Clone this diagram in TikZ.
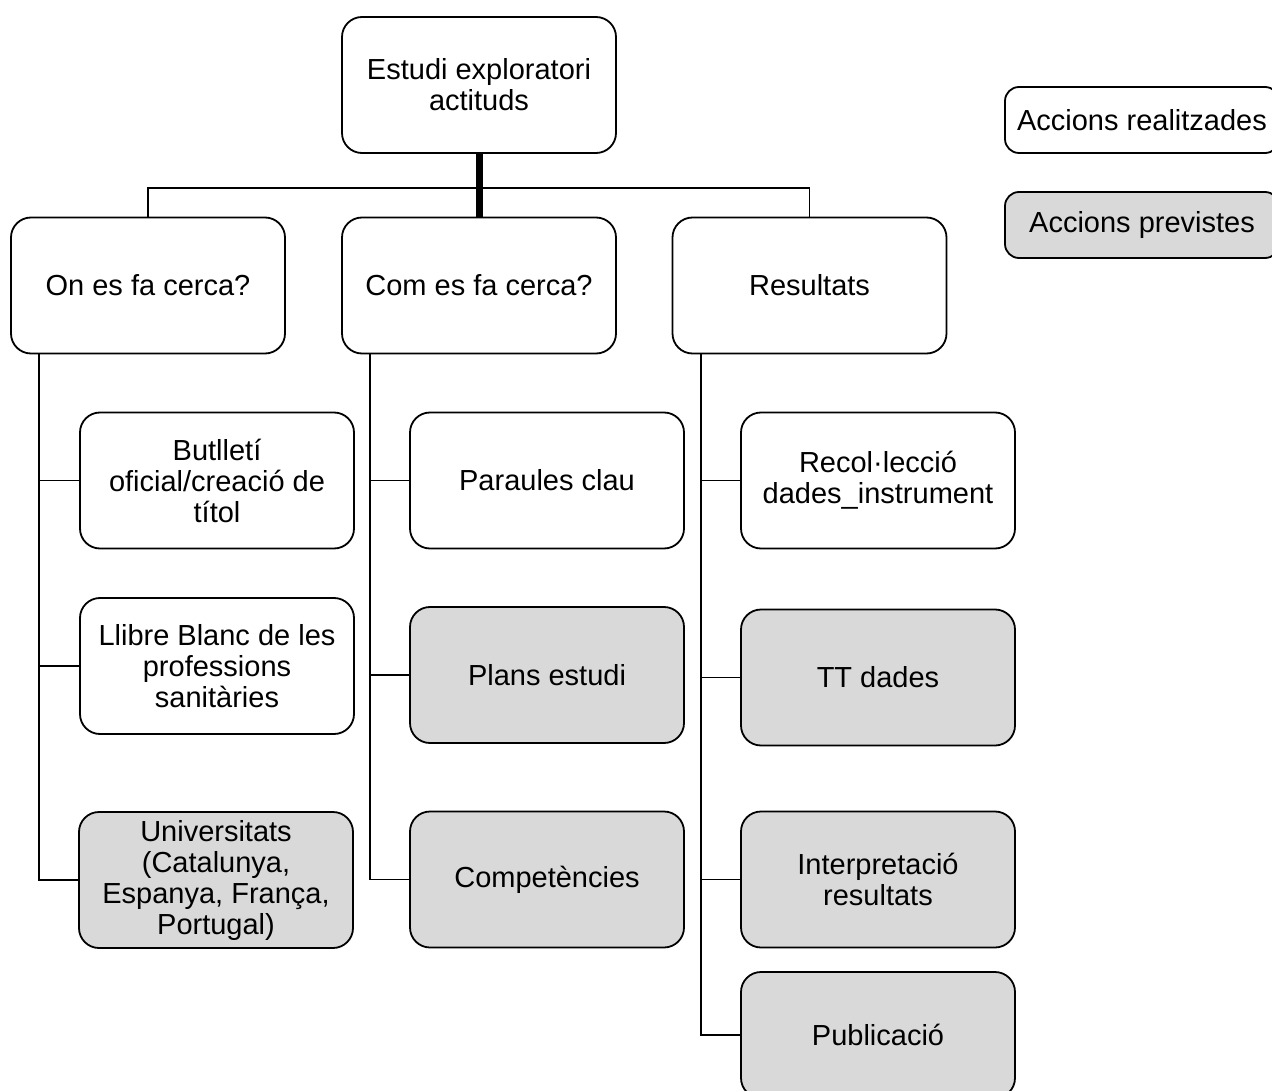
\documentclass[tikz,border=0pt]{standalone}
\usepackage{fontspec}
\setmainfont{Liberation Sans}
\definecolor{plangray}{HTML}{D9D9D9}
\begin{document}
\begin{tikzpicture}[x=1pt,y=-1pt,
  box/.style={draw=black,line width=1.8pt,rounded corners=20pt,fill=white,
    minimum width=274pt,align=center,inner sep=4pt,
    font=\fontsize{29}{31}\selectfont},
  tall/.style={box,minimum height=136pt},
  planned/.style={fill=plangray},
  legend/.style={box,minimum height=66pt,rounded corners=14pt},
  conn/.style={line width=1.8pt}]
\useasboundingbox (0,0) rectangle (1272,1091);
\clip (0,0) rectangle (1272,1091);
% top
\node[tall] (top) at (479,85) {Estudi exploratori\\actituds};
% legend
\node[legend] (lr) at (1142,120) {Accions realitzades};
\node[legend,planned] (lp) at (1142,225) {Accions previstes};
% level 2
\node[tall] (on) at (148,285.5) {On es fa cerca?};
\node[tall] (com) at (479,285.5) {Com es fa cerca?};
\node[tall] (res) at (809.5,285.5) {Resultats};
% column 1
\node[tall] (a1) at (217,480.5) {Butlletí\\oficial/creació de\\títol};
\node[tall] (a2) at (217,666) {Llibre Blanc de les\\professions\\sanitàries};
\node[tall,planned] (a3) at (216,880) {Universitats\\(Catalunya,\\Espanya, França,\\Portugal)};
% column 2
\node[tall] (b1) at (547,480.5) {Paraules clau};
\node[tall,planned] (b2) at (547,675) {Plans estudi};
\node[tall,planned] (b3) at (547,879.5) {Competències};
% column 3
\node[tall] (c1) at (878,480.5) {Recol·lecció\\dades\_instrument};
\node[tall,planned] (c2) at (878,677.5) {TT dades};
\node[tall,planned] (c3) at (878,879.5) {Interpretació\\resultats};
\node[tall,planned,minimum height=126pt] (c4) at (878,1035) {Publicació};
% connectors
\coordinate (hub) at (479,188);
\draw[conn] (on.north) |- (hub) -| (res.north);
\draw[line width=7pt] (top.south) -- (com.north);
\draw[conn] ([xshift=29pt]on.south west) |- (a1.west);
\draw[conn] ([xshift=29pt]on.south west) |- (a2.west);
\draw[conn] ([xshift=29pt]on.south west) |- (a3.west);
\draw[conn] ([xshift=29pt]com.south west) |- (b1.west);
\draw[conn] ([xshift=29pt]com.south west) |- (b2.west);
\draw[conn] ([xshift=29pt]com.south west) |- (b3.west);
\draw[conn] ([xshift=29pt]res.south west) |- (c1.west);
\draw[conn] ([xshift=29pt]res.south west) |- (c2.west);
\draw[conn] ([xshift=29pt]res.south west) |- (c3.west);
\draw[conn] ([xshift=29pt]res.south west) |- (c4.west);
\end{tikzpicture}
\end{document}
